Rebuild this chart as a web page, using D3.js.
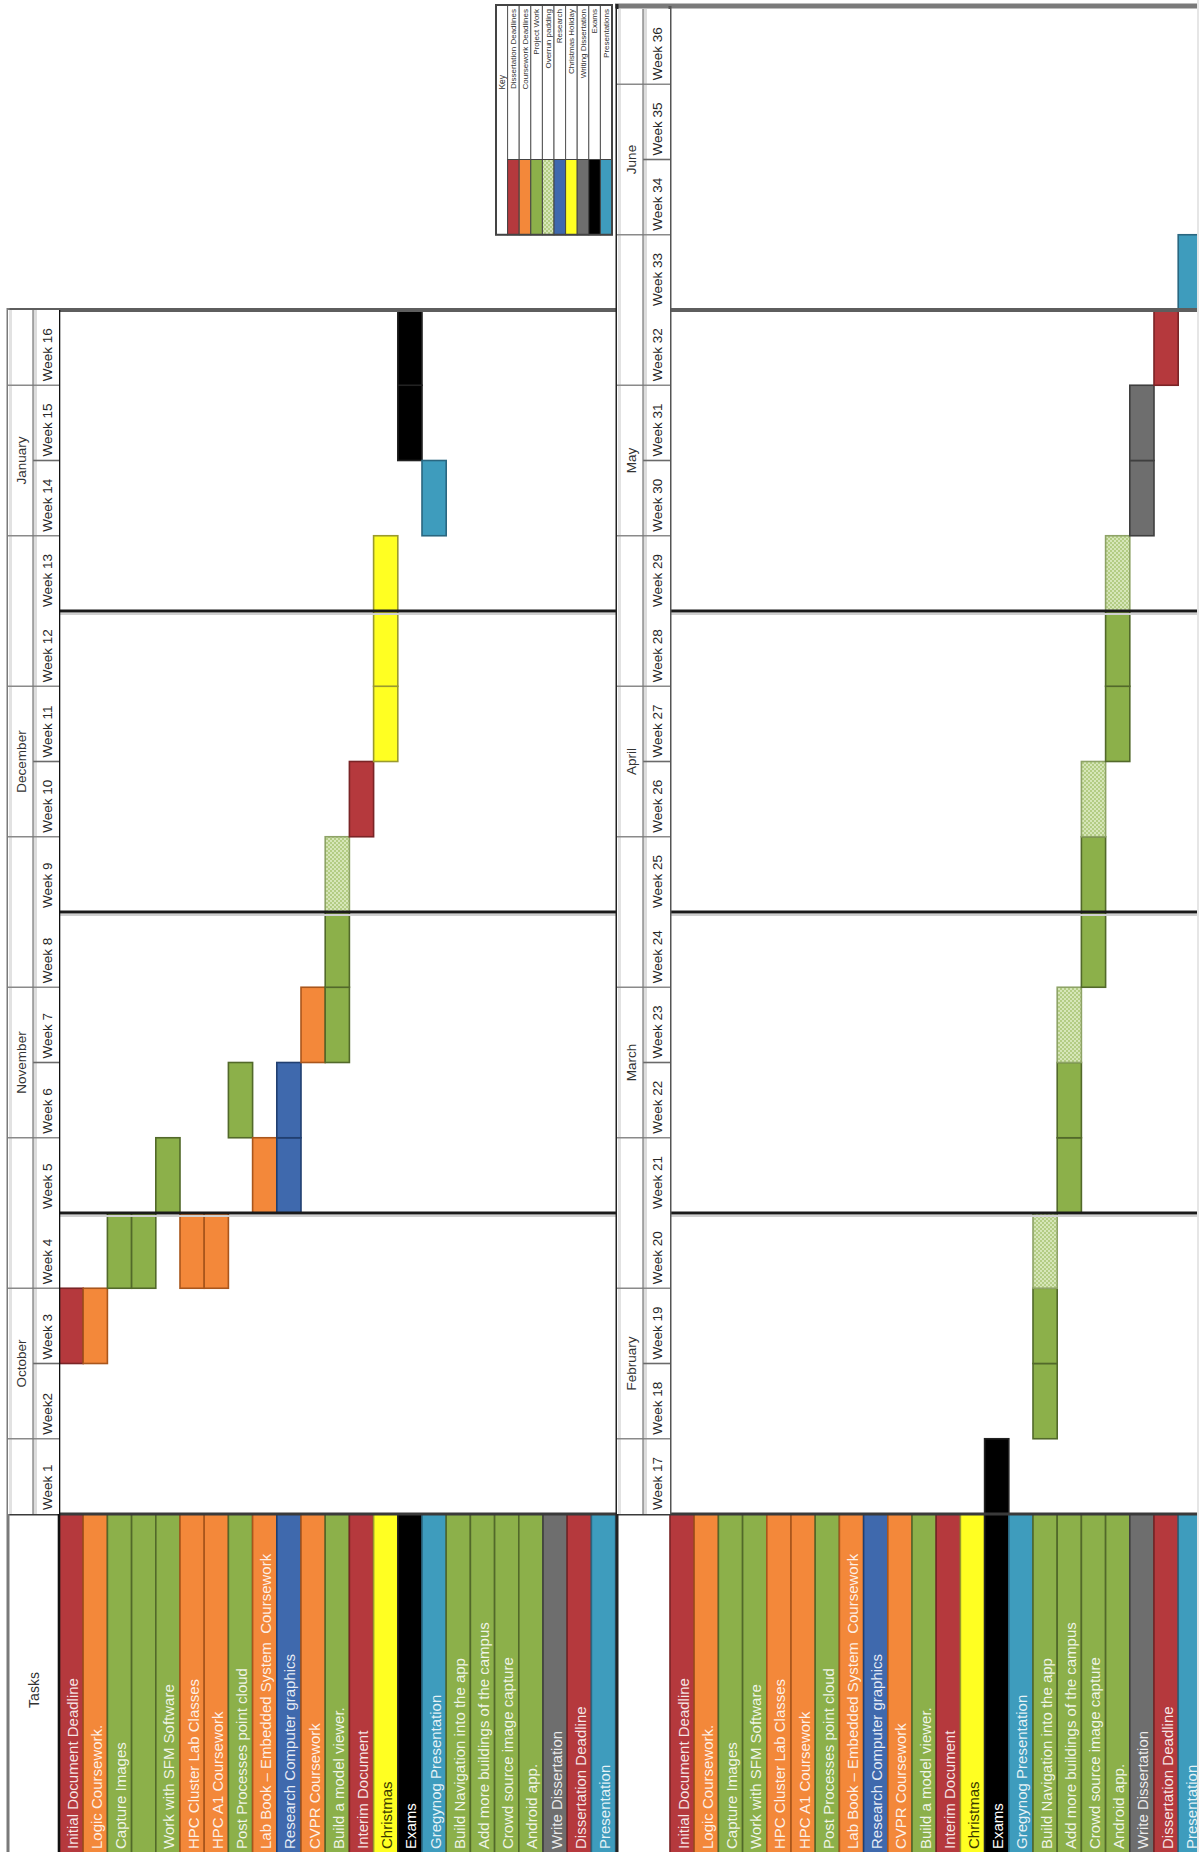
<!DOCTYPE html>
<html>
<head>
<meta charset="utf-8">
<title>Project plan</title>
<script src="https://cdn.jsdelivr.net/npm/d3@7"></script>
<style>
  body { margin: 0; background: #fff; }
  svg { display: block; }
  text { font-family: "Liberation Sans", Arial, sans-serif; }
</style>
</head>
<body>
<svg id="plan" width="1199" height="1852"></svg>
<script>
// ---- plan data -------------------------------------------------------
// One entry per task row; the unnamed row exists only in the autumn half.
const taskNames = [
  "Initial Document Deadline", "Logic Coursework.", "Capture Images", "",
  "Work with SFM Software", "HPC Cluster Lab Classes", "HPC A1 Coursework",
  "Post Processes point cloud", "Lab Book \u2013 Embedded System  Coursework",
  "Research Computer graphics", "CVPR Coursework", "Build a model viewer.",
  "Interim Document", "Christmas", "Exams", "Gregynog Presentation",
  "Build Navigation into the app", "Add more buildings of the campus",
  "Crowd source image capture", "Android app.", "Write Dissertation",
  "Dissertation Deadline", "Presentation"
];
const taskTypes = [
  "deadline", "coursework", "project", "project", "project", "coursework",
  "coursework", "project", "coursework", "research", "coursework", "project",
  "deadline", "christmas", "exams", "presentation", "project", "project",
  "project", "project", "writing", "deadline", "presentation"
];

// [task row, first week, last week, kind]
const schedule = [
  [0, 3, 3, "deadline"], [1, 3, 3, "coursework"], [2, 4, 4, "project"],
  [3, 4, 4, "project"], [4, 5, 5, "project"], [5, 4, 4, "coursework"],
  [6, 4, 4, "coursework"], [7, 6, 6, "project"], [8, 5, 5, "coursework"],
  [9, 5, 6, "research"], [10, 7, 7, "coursework"], [11, 7, 8, "project"],
  [11, 9, 9, "overrun"], [12, 10, 10, "deadline"], [13, 11, 13, "christmas"],
  [14, 15, 16, "exams"], [15, 14, 14, "presentation"], [14, 17, 17, "exams"],
  [16, 18, 19, "project"], [16, 20, 20, "overrun"],
  [17, 21, 22, "project"], [17, 23, 23, "overrun"],
  [18, 24, 25, "project"], [18, 26, 26, "overrun"],
  [19, 27, 28, "project"], [19, 29, 29, "overrun"],
  [20, 30, 31, "writing"], [21, 32, 32, "deadline"], [22, 33, 33, "presentation"]
];

const weekLabelsA = ["Week 1", "Week2", "Week 3", "Week 4", "Week 5", "Week 6",
  "Week 7", "Week 8", "Week 9", "Week 10", "Week 11", "Week 12", "Week 13",
  "Week 14", "Week 15", "Week 16"];
const weekLabelsB = ["Week 17", "Week 18", "Week 19", "Week 20", "Week 21",
  "Week 22", "Week 23", "Week 24", "Week 25", "Week 26", "Week 27", "Week 28",
  "Week 29", "Week 30", "Week 31", "Week 32", "Week 33", "Week 34", "Week 35",
  "Week 36"];
const monthsA = ["October", "November", "December", "January"];
const monthsB = ["February", "March", "April", "May", "June"];

const keyKinds = ["deadline", "coursework", "project", "overrun", "research",
  "christmas", "writing", "exams", "presentation"];
const keyLabels = ["Dissertation Deadlines", "Coursework Deadlines", "Project Work",
  "Overrun padding", "Research", "Christmas Holiday", "Writing Dissertation",
  "Exams", "Presentations"];

// ---- styling ---------------------------------------------------------
const fills = {
  deadline: "#b5393d", coursework: "#f3883a", project: "#8cb04a",
  overrun: "url(#overrun)", research: "#3f69ad", christmas: "#ffff22",
  writing: "#6e6e6e", exams: "#000000", presentation: "#3e9cbd"
};
const edges = {
  deadline: "#7a2426", coursework: "#a9561c", project: "#52692a",
  overrun: "#8ea367", research: "#213f70", christmas: "#9a9a2e",
  writing: "#3f3f3f", exams: "#222222", presentation: "#2a6780"
};
const labelInk = { christmas: "#3a3a00", exams: "#ffffff" };

const svg = d3.select("#plan");
const defs = svg.append("defs");
const pat = defs.append("pattern").attr("id", "overrun")
  .attr("width", 4).attr("height", 4).attr("patternUnits", "userSpaceOnUse");
pat.append("rect").attr("width", 4).attr("height", 4).attr("fill", "#d6e6b8");
pat.append("rect").attr("width", 2).attr("height", 2).attr("fill", "#b3cc84");
pat.append("rect").attr("x", 2).attr("y", 2).attr("width", 2).attr("height", 2).attr("fill", "#b3cc84");

// ---- geometry --------------------------------------------------------
const H = 1852, taskTop = 1514;
const colW = 24.2;
const rowsA = d3.range(taskNames.length);
const rowsB = rowsA.filter(i => taskNames[i] !== "");

const xA = d3.scaleBand().domain(rowsA).range([59, 59 + colW * rowsA.length]);
const xB = d3.scaleBand().domain(rowsB).range([670, 670 + colW * rowsB.length]);
const yA = d3.scaleLinear().domain([0, 16]).range([taskTop, 310]);
const yB = d3.scaleLinear().domain([16, 36]).range([taskTop, 9]);

const halves = [
  { x: xA, y: yA, rows: rowsA, weeks: weekLabelsA, months: monthsA, first: 1,
    hx0: 8, hx1: 33, hx2: 59 },
  { x: xB, y: yB, rows: rowsB, weeks: weekLabelsB, months: monthsB, first: 17,
    hx0: 617, hx1: 643, hx2: 670 }
];

const gTasks = svg.append("g");
const gBars = svg.append("g");
const gGrid = svg.append("g");
const gHead = svg.append("g");

function vText(g, x, y, str, size, ink, anchor) {
  return g.append("text")
    .attr("transform", `translate(${x},${y}) rotate(-90)`)
    .attr("text-anchor", anchor || "start")
    .attr("dominant-baseline", "central")
    .attr("font-size", size)
    .attr("fill", ink)
    .style("white-space", "pre")
    .text(str);
}

halves.forEach(h => {
  // task name strips under each half
  h.rows.forEach(i => {
    const t = taskTypes[i];
    gTasks.append("rect")
      .attr("x", h.x(i)).attr("y", taskTop)
      .attr("width", h.x.bandwidth()).attr("height", H - taskTop + 4)
      .attr("fill", fills[t]).attr("stroke", edges[t]).attr("stroke-width", 1.6);
    if (taskNames[i]) {
      vText(gTasks, h.x(i) + h.x.bandwidth() / 2 + 1, H - 3, taskNames[i], 15,
        labelInk[t] || "#ffffff").attr("fill-opacity", labelInk[t] ? 1 : 0.88);
    }
  });

  // scheduled weeks, one cell per week
  const w0 = h.first, w1 = h.first + h.weeks.length - 1;
  schedule.forEach(([row, s, e, kind]) => {
    d3.range(Math.max(s, w0), Math.min(e, w1) + 1).forEach(w => {
      gBars.append("rect")
        .attr("x", h.x(row)).attr("y", h.y(w))
        .attr("width", h.x.bandwidth())
        .attr("height", h.y(w - 1) - h.y(w))
        .attr("fill", fills[kind]).attr("stroke", edges[kind])
        .attr("stroke-width", 1.6);
    });
  });

  // header columns: months and weeks
  const top = h.y(w1), bottom = h.y(w0 - 1);
  gHead.append("rect").attr("x", h.hx0).attr("y", top)
    .attr("width", h.hx2 - h.hx0).attr("height", bottom - top).attr("fill", "#fff");
  gHead.append("rect").attr("x", h.hx0 + 1).attr("y", top)
    .attr("width", 3).attr("height", bottom - top).attr("fill", "#e2e2e2");
  gHead.append("rect").attr("x", h.hx1).attr("y", top)
    .attr("width", 4).attr("height", bottom - top).attr("fill", "#dcdcdc");

  h.weeks.forEach((lab, k) => {
    const w = w0 + k;
    vText(gHead, h.hx1 + 14, h.y(w - 1) - 4, lab, 13.5, "#262626");
    const pos = w - w0 + 1;            // 1-based position inside the half
    if (pos % 4 === 0) return;        // month boundary drawn as a full rule
    const full = pos % 2 === 1;        // month cells join the middle weeks
    gHead.append("line")
      .attr("x1", full ? h.hx0 : h.hx1).attr("x2", h.hx2)
      .attr("y1", h.y(w)).attr("y2", h.y(w))
      .attr("stroke", full ? "#8a8a8a" : "#6a6a6a").attr("stroke-width", 1.6);
  });
  h.months.forEach((m, k) => {
    const mid = h.y(w0 - 1 + k * 4 + 2);
    vText(gHead, (h.hx0 + h.hx1) / 2 + 1, mid, m, 13.5, "#333", "middle");
  });

  gHead.append("line").attr("x1", h.hx1).attr("x2", h.hx1)
    .attr("y1", top).attr("y2", bottom).attr("stroke", "#777").attr("stroke-width", 1.2);
});

// ---- ruled grid ------------------------------------------------------
[4, 8, 12].forEach(k => {
  gGrid.append("line").attr("x1", 8).attr("x2", 1199)
    .attr("y1", yA(k) + 3).attr("y2", yA(k) + 3)
    .attr("stroke", "#d0d0d0").attr("stroke-width", 2);
  gGrid.append("line").attr("x1", 8).attr("x2", 1199)
    .attr("y1", yA(k)).attr("y2", yA(k))
    .attr("stroke", "#1a1a1a").attr("stroke-width", 3);
});
gGrid.append("line").attr("x1", 7).attr("x2", 1199)
  .attr("y1", yA(16)).attr("y2", yA(16)).attr("stroke", "#5e5e5e").attr("stroke-width", 4);
gGrid.append("line").attr("x1", 615).attr("x2", 1199)
  .attr("y1", yB(36) - 3).attr("y2", yB(36) - 3).attr("stroke", "#7a7a7a").attr("stroke-width", 5);
gGrid.append("line").attr("x1", 7).attr("x2", 1199)
  .attr("y1", taskTop).attr("y2", taskTop).attr("stroke", "#3a3a3a").attr("stroke-width", 3);

gGrid.append("line").attr("x1", 8).attr("x2", 8)
  .attr("y1", yA(16) - 2).attr("y2", H).attr("stroke", "#7a7a7a").attr("stroke-width", 3);
gGrid.append("line").attr("x1", 59).attr("x2", 59)
  .attr("y1", yA(16)).attr("y2", H).attr("stroke", "#111").attr("stroke-width", 2.6);
gGrid.append("line").attr("x1", 617).attr("x2", 617)
  .attr("y1", yB(36) - 5).attr("y2", H).attr("stroke", "#222").attr("stroke-width", 3);
gGrid.append("line").attr("x1", 670).attr("x2", 670)
  .attr("y1", yB(36) - 3).attr("y2", taskTop).attr("stroke", "#555").attr("stroke-width", 3);
gGrid.append("line").attr("x1", 1198).attr("x2", 1198)
  .attr("y1", 0).attr("y2", H).attr("stroke", "#e6e6e6").attr("stroke-width", 2);

// task header cell of the first half
vText(gGrid, 34, 1690, "Tasks", 14, "#333", "middle");

// ---- key -------------------------------------------------------------
const keyRows = d3.range(keyKinds.length + 1);
const xKey = d3.scaleBand().domain(keyRows).range([496, 612]);
const keyTop = yB(36) - 4, keySwatchTop = yB(34), keyBottom = yB(33);
const gKey = svg.append("g");
gKey.append("rect").attr("x", xKey(0)).attr("y", keyTop)
  .attr("width", xKey.bandwidth()).attr("height", keyBottom - keyTop)
  .attr("fill", "#fff").attr("stroke", "#555").attr("stroke-width", 1);
vText(gKey, xKey(0) + xKey.bandwidth() / 2, (keyTop + keySwatchTop) / 2, "Key", 8.5, "#333", "middle");
keyKinds.forEach((kind, i) => {
  const x = xKey(i + 1), bw = xKey.bandwidth();
  gKey.append("rect").attr("x", x).attr("y", keyTop).attr("width", bw)
    .attr("height", keySwatchTop - keyTop).attr("fill", "#fff")
    .attr("stroke", "#555").attr("stroke-width", 1);
  gKey.append("rect").attr("x", x).attr("y", keySwatchTop).attr("width", bw)
    .attr("height", keyBottom - keySwatchTop).attr("fill", fills[kind])
    .attr("stroke", "#444").attr("stroke-width", 1);
  vText(gKey, x + bw / 2, keyTop + 4, keyLabels[i], 8, "#333", "end");
});
gKey.append("rect").attr("x", xKey(0)).attr("y", keyTop)
  .attr("width", xKey.range()[1] - xKey.range()[0]).attr("height", keyBottom - keyTop)
  .attr("fill", "none").attr("stroke", "#444").attr("stroke-width", 2);
</script>
</body>
</html>
